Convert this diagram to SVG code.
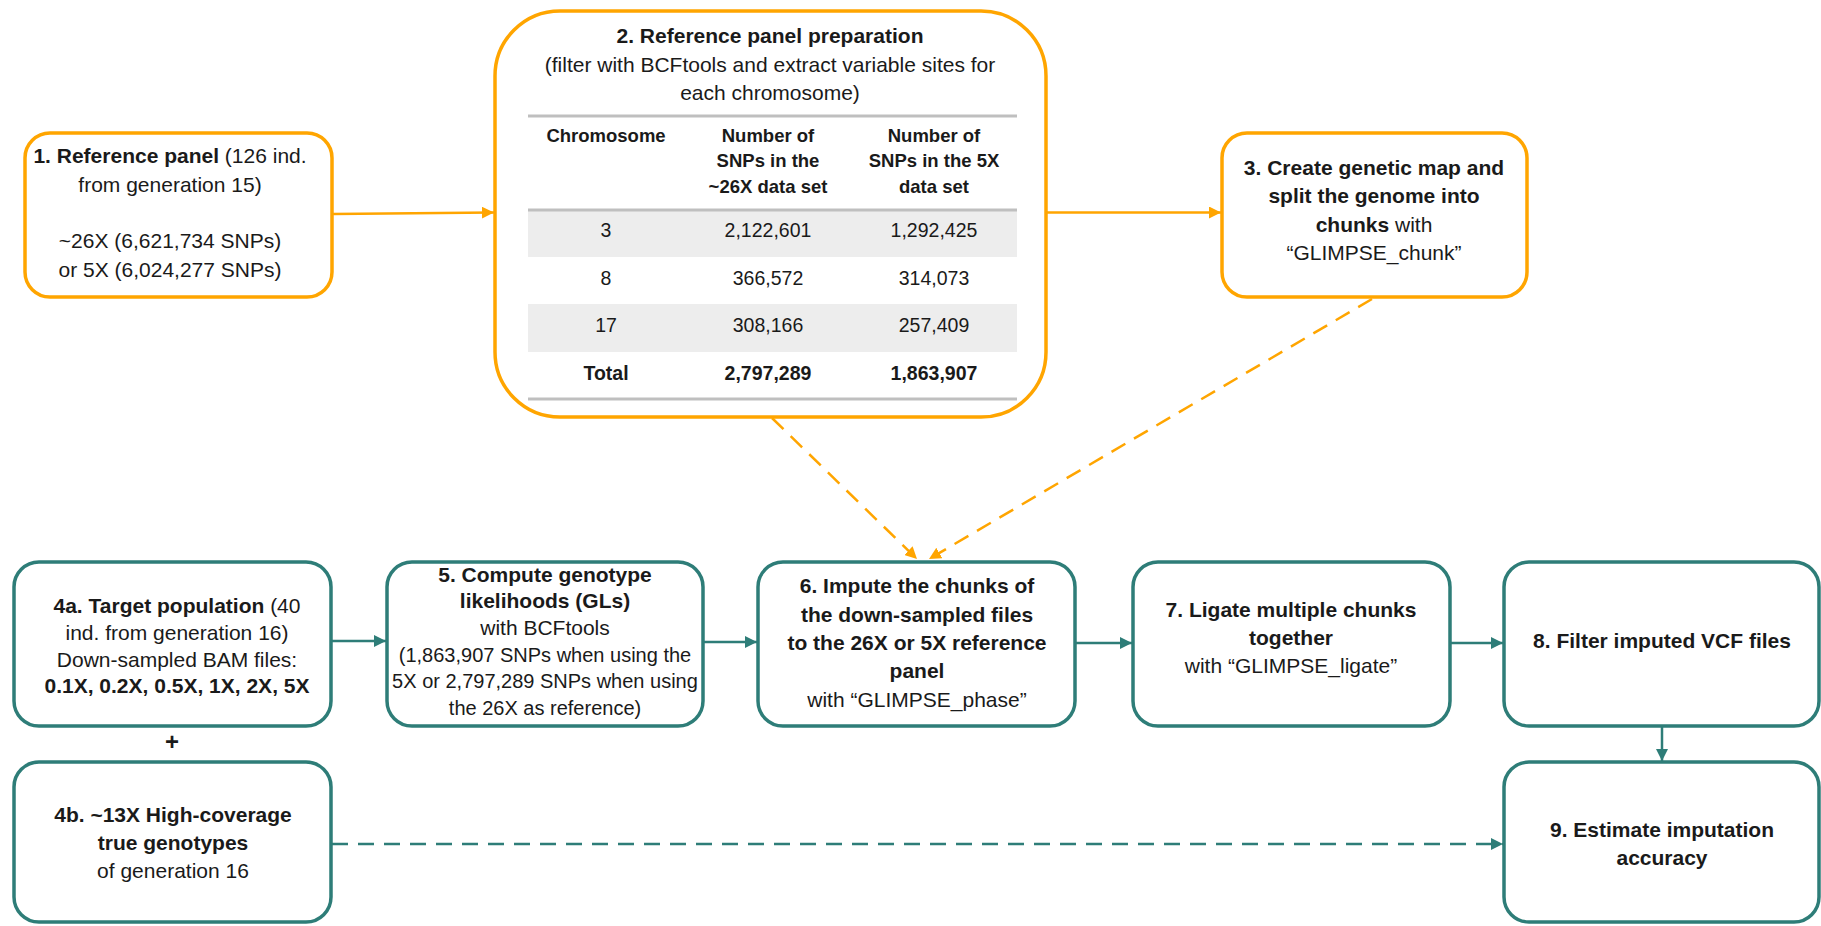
<svg xmlns="http://www.w3.org/2000/svg" width="1821" height="926" viewBox="0 0 1821 926">
<style>
  text { font-family: "Liberation Sans", Arial, sans-serif; fill: #1a1a1a; text-anchor: middle; }
  .t { font-size: 21px; }
  .s { font-size: 20px; }
  .tb { font-size: 18.5px; }
  .td { font-size: 19.5px; }
  .b { font-weight: bold; }
  .or { fill: #ffffff; stroke: #FFA500; stroke-width: 3.5; }
  .te { fill: #ffffff; stroke: #2E7D78; stroke-width: 3.5; }
  .lo { fill: none; stroke: #FFA500; stroke-width: 2.5; }
  .lt { fill: none; stroke: #2E7D78; stroke-width: 2.5; }
  .dash { stroke-dasharray: 16 10; }
  .rule { stroke: #BFBFBF; stroke-width: 3; }
</style>
<defs>
  <marker id="ao" markerUnits="userSpaceOnUse" markerWidth="14" markerHeight="12" refX="12" refY="6" orient="auto">
    <path d="M0,0 L12,6 L0,12 Z" fill="#FFA500"/>
  </marker>
  <marker id="at" markerUnits="userSpaceOnUse" markerWidth="14" markerHeight="12" refX="12" refY="6" orient="auto">
    <path d="M0,0 L12,6 L0,12 Z" fill="#2E7D78"/>
  </marker>
</defs>
<rect width="1821" height="926" fill="#ffffff"/>

<g id="connectors">
  <path class="lo" d="M333,214 L494,212.5" marker-end="url(#ao)"/>
  <path class="lo" d="M1046,212.5 L1221,212.5" marker-end="url(#ao)"/>
  <path class="lo dash" d="M772,418 L917,559" marker-end="url(#ao)"/>
  <path class="lo dash" d="M1372,299 L929,559" marker-end="url(#ao)"/>
  <path class="lt" d="M332,641 L386,641" marker-end="url(#at)"/>
  <path class="lt" d="M704,642 L757,642" marker-end="url(#at)"/>
  <path class="lt" d="M1076,643 L1132,643" marker-end="url(#at)"/>
  <path class="lt" d="M1450,643 L1503,643" marker-end="url(#at)"/>
  <path class="lt" d="M1662,727 L1662,761" marker-end="url(#at)"/>
  <path class="lt dash" d="M332,844 L1503,844" marker-end="url(#at)"/>
</g>

<g id="node1">
  <rect class="or" x="25" y="133" width="307" height="164" rx="25"/>
  <text class="t" x="170" y="163"><tspan class="b">1. Reference panel</tspan> (126 ind.</text>
  <text class="t" x="170" y="192">from generation 15)</text>
  <text class="t" x="170" y="248">~26X (6,621,734 SNPs)</text>
  <text class="t" x="170" y="277">or 5X (6,024,277 SNPs)</text>
</g>

<g id="node2">
  <rect class="or" x="495" y="11" width="551" height="406" rx="65"/>
  <text class="t b" x="770" y="43">2. Reference panel preparation</text>
  <text class="t" x="770" y="72">(filter with BCFtools and extract variable sites for</text>
  <text class="t" x="770" y="100">each chromosome)</text>
  <rect x="528" y="211" width="489" height="46" fill="#EDEDED"/>
  <rect x="528" y="304" width="489" height="48" fill="#EDEDED"/>
  <line class="rule" x1="528" y1="116" x2="1017" y2="116"/>
  <line class="rule" x1="528" y1="210" x2="1017" y2="210"/>
  <line class="rule" x1="528" y1="399" x2="1017" y2="399"/>
  <text class="tb b" x="606" y="142">Chromosome</text>
  <text class="tb b" x="768" y="142">Number of</text>
  <text class="tb b" x="768" y="167">SNPs in the</text>
  <text class="tb b" x="768" y="193">~26X data set</text>
  <text class="tb b" x="934" y="142">Number of</text>
  <text class="tb b" x="934" y="167">SNPs in the 5X</text>
  <text class="tb b" x="934" y="193">data set</text>
  <text class="td" x="606" y="237">3</text>
  <text class="td" x="768" y="237">2,122,601</text>
  <text class="td" x="934" y="237">1,292,425</text>
  <text class="td" x="606" y="285">8</text>
  <text class="td" x="768" y="285">366,572</text>
  <text class="td" x="934" y="285">314,073</text>
  <text class="td" x="606" y="332">17</text>
  <text class="td" x="768" y="332">308,166</text>
  <text class="td" x="934" y="332">257,409</text>
  <text class="td b" x="606" y="380">Total</text>
  <text class="td b" x="768" y="380">2,797,289</text>
  <text class="td b" x="934" y="380">1,863,907</text>
</g>

<g id="node3">
  <rect class="or" x="1222" y="133" width="305" height="164" rx="25"/>
  <text class="t b" x="1374" y="175">3. Create genetic map and</text>
  <text class="t b" x="1374" y="203">split the genome into</text>
  <text class="t" x="1374" y="232"><tspan class="b">chunks</tspan> with</text>
  <text class="t" x="1374" y="260">“GLIMPSE_chunk”</text>
</g>

<g id="node4a">
  <rect class="te" x="14" y="562" width="317" height="164" rx="25"/>
  <text class="t" x="177" y="613"><tspan class="b">4a. Target population</tspan> (40</text>
  <text class="t" x="177" y="640">ind. from generation 16)</text>
  <text class="t" x="177" y="667">Down-sampled BAM files:</text>
  <text class="t b" x="177" y="693">0.1X, 0.2X, 0.5X, 1X, 2X, 5X</text>
</g>

<text class="t b" x="172" y="750" style="font-size:24px">+</text>

<g id="node4b">
  <rect class="te" x="14" y="762" width="317" height="160" rx="25"/>
  <text class="t b" x="173" y="822">4b. ~13X High-coverage</text>
  <text class="t b" x="173" y="850">true genotypes</text>
  <text class="t" x="173" y="878">of generation 16</text>
</g>

<g id="node5">
  <rect class="te" x="387" y="562" width="316" height="164" rx="25"/>
  <text class="t b" x="545" y="582">5. Compute genotype</text>
  <text class="t b" x="545" y="608">likelihoods (GLs)</text>
  <text class="t" x="545" y="635">with BCFtools</text>
  <text class="s" x="545" y="662">(1,863,907 SNPs when using the</text>
  <text class="s" x="545" y="688">5X or 2,797,289 SNPs when using</text>
  <text class="s" x="545" y="715">the 26X as reference)</text>
</g>

<g id="node6">
  <rect class="te" x="758" y="562" width="317" height="164" rx="25"/>
  <text class="t b" x="917" y="593">6. Impute the chunks of</text>
  <text class="t b" x="917" y="622">the down-sampled files</text>
  <text class="t b" x="917" y="650">to the 26X or 5X reference</text>
  <text class="t b" x="917" y="678">panel</text>
  <text class="t" x="917" y="707">with “GLIMPSE_phase”</text>
</g>

<g id="node7">
  <rect class="te" x="1133" y="562" width="317" height="164" rx="25"/>
  <text class="t b" x="1291" y="617">7. Ligate multiple chunks</text>
  <text class="t b" x="1291" y="645">together</text>
  <text class="t" x="1291" y="673">with “GLIMPSE_ligate”</text>
</g>

<g id="node8">
  <rect class="te" x="1504" y="562" width="315" height="164" rx="25"/>
  <text class="t b" x="1662" y="648">8. Filter imputed VCF files</text>
</g>

<g id="node9">
  <rect class="te" x="1504" y="762" width="315" height="160" rx="25"/>
  <text class="t b" x="1662" y="837">9. Estimate imputation</text>
  <text class="t b" x="1662" y="865">accuracy</text>
</g>
</svg>
